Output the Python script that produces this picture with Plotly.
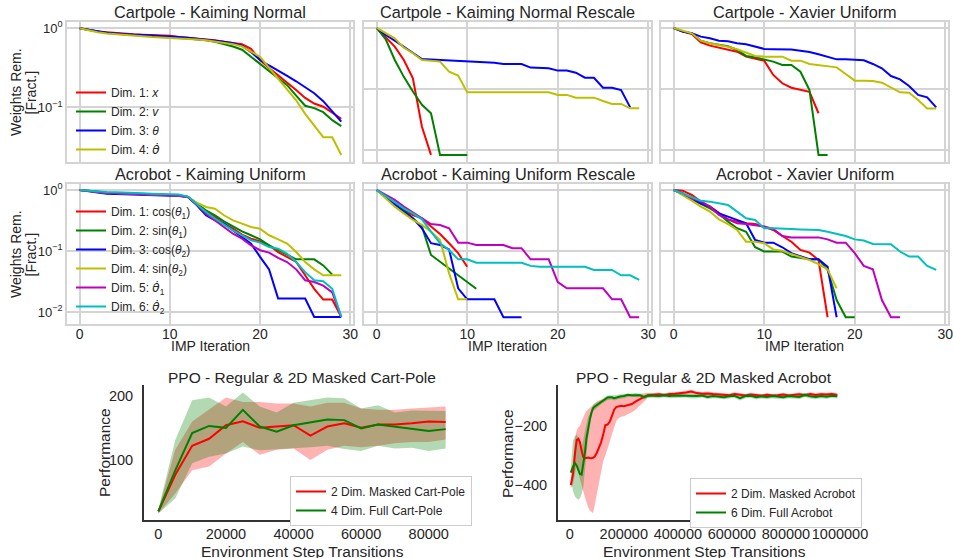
import plotly.graph_objects as go

# ---------------------------------------------------------------- data
iterations = list(range(30))

# Cartpole - Kaiming Normal (fraction of weights remaining per IMP iteration)
cp_kn_x = [1.0, 0.955, 0.912, 0.891, 0.871, 0.851, 0.841, 0.832, 0.822, 0.813, 0.804, 0.776, 0.759, 0.741, 0.724,
           0.708, 0.676, 0.646, 0.631, 0.550, 0.398, 0.316, 0.257, 0.209, 0.166, 0.132, 0.112, 0.102, 0.085, 0.072]
cp_kn_v = [1.0, 0.955, 0.902, 0.871, 0.851, 0.832, 0.813, 0.804, 0.794, 0.776, 0.767, 0.759, 0.741, 0.724, 0.708,
           0.676, 0.631, 0.589, 0.537, 0.437, 0.355, 0.295, 0.240, 0.191, 0.141, 0.105, 0.098, 0.087, 0.069, 0.058]
cp_kn_theta = [1.0, 0.955, 0.912, 0.881, 0.861, 0.841, 0.832, 0.822, 0.813, 0.804, 0.794, 0.776, 0.759, 0.741, 0.724,
               0.700, 0.676, 0.646, 0.603, 0.501, 0.398, 0.339, 0.288, 0.251, 0.214, 0.182, 0.151, 0.120, 0.089, 0.066]
cp_kn_thetadot = [1.0, 0.944, 0.891, 0.861, 0.841, 0.822, 0.804, 0.794, 0.776, 0.767, 0.759, 0.750, 0.741, 0.724, 0.708,
                  0.684, 0.661, 0.631, 0.589, 0.513, 0.437, 0.316, 0.229, 0.166, 0.123, 0.083, 0.058, 0.042, 0.042, 0.025]

# Cartpole - Kaiming Normal Rescale
cp_knr_x = [1.0, 0.703, 0.494, 0.299, 0.150, 0.024, 0.0083]
cp_knr_v = [1.0, 0.652, 0.299, 0.158, 0.091, 0.055, 0.040, 0.0083, 0.0083, 0.0083, 0.0083]
cp_knr_theta = [1.0, 0.767, 0.620, 0.494, 0.399, 0.310, 0.303, 0.299, 0.295, 0.291, 0.288, 0.281, 0.274, 0.269, 0.257,
                0.257, 0.257, 0.224, 0.224, 0.218, 0.200, 0.200, 0.185, 0.153, 0.153, 0.105, 0.105, 0.096, 0.050]
cp_knr_thetadot = [1.0, 0.818, 0.678, 0.476, 0.385, 0.299, 0.288, 0.281, 0.192, 0.166, 0.088, 0.088, 0.088, 0.088, 0.088,
                   0.088, 0.088, 0.088, 0.088, 0.088, 0.080, 0.080, 0.072, 0.072, 0.072, 0.0635, 0.0568, 0.0568, 0.0482, 0.0482]

# Cartpole - Xavier Uniform
cp_xu_x = [1.0, 0.871, 0.798, 0.582, 0.513, 0.476, 0.453, 0.409, 0.339, 0.318, 0.291, 0.170, 0.124, 0.105, 0.096, 0.090, 0.040]
cp_xu_v = [1.0, 0.871, 0.818, 0.619, 0.561, 0.526, 0.500, 0.436, 0.348, 0.330, 0.306, 0.281, 0.247, 0.247, 0.192, 0.096,
           0.0083, 0.0083]
cp_xu_theta = [1.0, 0.871, 0.818, 0.721, 0.678, 0.620, 0.604, 0.561, 0.540, 0.494, 0.453, 0.447, 0.447, 0.442, 0.425,
               0.405, 0.370, 0.339, 0.306, 0.306, 0.299, 0.295, 0.257, 0.218, 0.163, 0.144, 0.112, 0.080, 0.073, 0.050]
cp_xu_thetadot = [1.0, 0.893, 0.818, 0.619, 0.561, 0.526, 0.494, 0.447, 0.394, 0.348, 0.339, 0.339, 0.339, 0.291, 0.291,
                  0.257, 0.244, 0.238, 0.226, 0.176, 0.137, 0.137, 0.135, 0.127, 0.106, 0.088, 0.087, 0.066, 0.048, 0.048]

# Acrobot - Kaiming Uniform
ac_ku_cos1 = [1.0, 0.955, 0.933, 0.902, 0.891, 0.881, 0.871, 0.861, 0.851, 0.841, 0.832, 0.813, 0.767, 0.597, 0.436,
              0.361, 0.281, 0.232, 0.185, 0.159, 0.144, 0.124, 0.096, 0.080, 0.066, 0.040, 0.024, 0.016, 0.016, 0.0083]
ac_ku_sin1 = [1.0, 0.955, 0.933, 0.902, 0.891, 0.881, 0.871, 0.861, 0.851, 0.841, 0.832, 0.813, 0.767, 0.597, 0.465,
              0.385, 0.306, 0.254, 0.210, 0.181, 0.155, 0.124, 0.103, 0.087, 0.073, 0.073, 0.073, 0.058, 0.041]
ac_ku_cos2 = [1.0, 0.955, 0.912, 0.870, 0.860, 0.850, 0.845, 0.840, 0.830, 0.820, 0.810, 0.800, 0.767, 0.561, 0.385,
              0.318, 0.281, 0.218, 0.170, 0.132, 0.080, 0.050, 0.0166, 0.0166, 0.0166, 0.0166, 0.0083, 0.0083, 0.0083, 0.0083]
ac_ku_sin2 = [1.0, 0.955, 0.933, 0.902, 0.891, 0.881, 0.871, 0.861, 0.851, 0.841, 0.832, 0.813, 0.767, 0.617, 0.526,
              0.494, 0.385, 0.318, 0.281, 0.247, 0.232, 0.181, 0.155, 0.132, 0.096, 0.066, 0.050, 0.040, 0.040, 0.040]
ac_ku_dot1 = [1.0, 0.955, 0.933, 0.902, 0.891, 0.881, 0.871, 0.861, 0.851, 0.841, 0.832, 0.813, 0.767, 0.575, 0.409,
              0.318, 0.247, 0.192, 0.159, 0.124, 0.103, 0.094, 0.077, 0.066, 0.050, 0.033, 0.031, 0.027, 0.021, 0.0083]
ac_ku_dot2 = [1.0, 0.970, 0.950, 0.930, 0.920, 0.900, 0.890, 0.880, 0.870, 0.860, 0.850, 0.840, 0.780, 0.575, 0.436,
              0.339, 0.270, 0.218, 0.181, 0.150, 0.137, 0.116, 0.109, 0.090, 0.066, 0.045, 0.033, 0.032, 0.024, 0.0083]

# Acrobot - Kaiming Uniform Rescale
ac_kur_cos1 = [1.0, 0.776, 0.604, 0.470, 0.389, 0.344, 0.251, 0.190, 0.134, 0.092, 0.055]
ac_kur_sin1 = [1.0, 0.759, 0.589, 0.470, 0.344, 0.251, 0.086, 0.067, 0.052, 0.040, 0.031, 0.024]
ac_kur_cos2 = [1.0, 0.759, 0.568, 0.442, 0.344, 0.235, 0.134, 0.125, 0.106, 0.0244, 0.0161, 0.0161, 0.0161, 0.0161,
               0.0082, 0.0082, 0.0082]
ac_kur_sin2 = [1.0, 0.730, 0.533, 0.414, 0.322, 0.267, 0.207, 0.151, 0.043, 0.0161, 0.0161]
ac_kur_dot1 = [1.0, 0.828, 0.686, 0.533, 0.425, 0.344, 0.277, 0.267, 0.236, 0.137, 0.137, 0.125, 0.125, 0.125, 0.125,
               0.111, 0.111, 0.073, 0.073, 0.073, 0.031, 0.0244, 0.0244, 0.0244, 0.0244, 0.0244, 0.0161, 0.0161, 0.0082, 0.0082]
ac_kur_dot2 = [1.0, 0.798, 0.644, 0.500, 0.414, 0.330, 0.207, 0.134, 0.104, 0.073, 0.073, 0.064, 0.064, 0.064, 0.064,
               0.064, 0.064, 0.057, 0.055, 0.055, 0.055, 0.055, 0.055, 0.055, 0.049, 0.049, 0.049, 0.040, 0.040, 0.0335]

# Acrobot - Xavier Uniform
ac_xu_cos1 = [1.0, 0.975, 0.828, 0.644, 0.533, 0.414, 0.330, 0.303, 0.284, 0.277, 0.251, 0.221, 0.176, 0.142, 0.104,
              0.094, 0.071, 0.0082]
ac_xu_sin1 = [1.0, 0.859, 0.703, 0.589, 0.500, 0.405, 0.303, 0.236, 0.207, 0.115, 0.098, 0.098, 0.098, 0.081, 0.076,
              0.073, 0.073, 0.049, 0.0157, 0.0082, 0.0082]
ac_xu_cos2 = [1.0, 0.881, 0.730, 0.604, 0.533, 0.414, 0.366, 0.322, 0.284, 0.151, 0.137, 0.137, 0.115, 0.092, 0.081,
              0.073, 0.073, 0.055, 0.0082]
ac_xu_sin2 = [1.0, 0.828, 0.668, 0.533, 0.442, 0.330, 0.277, 0.221, 0.142, 0.142, 0.134, 0.106, 0.101, 0.089, 0.079,
              0.071, 0.061, 0.050, 0.0244]
ac_xu_dot1 = [1.0, 0.881, 0.730, 0.644, 0.533, 0.389, 0.330, 0.284, 0.277, 0.267, 0.251, 0.230, 0.176, 0.167, 0.167,
              0.167, 0.167, 0.155, 0.137, 0.137, 0.092, 0.057, 0.050, 0.0157, 0.0082, 0.0082]
ac_xu_dot2 = [1.0, 0.881, 0.778, 0.668, 0.644, 0.604, 0.568, 0.442, 0.344, 0.322, 0.236, 0.236, 0.236, 0.230, 0.226,
              0.226, 0.221, 0.207, 0.190, 0.176, 0.155, 0.148, 0.130, 0.129, 0.129, 0.098, 0.081, 0.081, 0.057, 0.049]

# PPO Cart-Pole: mean and spread of the return
cp_steps = [0, 5000, 10000, 15000, 20000, 25000, 30000, 35000, 40000, 45000, 50000, 55000, 60000, 65000, 70000,
            75000, 80000, 85000]
cp_masked_mean = [20, 77, 122, 133, 154, 160, 150, 152, 154, 138, 152, 157, 150, 155, 155, 157, 160, 159]
cp_masked_upper = [23, 116, 160, 178, 197, 190, 190, 188, 188, 183, 189, 189, 180, 178, 178, 180, 181, 183]
cp_masked_lower = [17, 48, 84, 90, 110, 128, 108, 116, 118, 100, 116, 122, 120, 122, 126, 128, 128, 132]
cp_full_mean = [20, 84, 142, 153, 150, 178, 152, 144, 154, 158, 163, 162, 149, 155, 152, 149, 145, 148]
cp_full_upper = [23, 131, 193, 197, 183, 205, 183, 174, 189, 193, 197, 196, 180, 185, 174, 177, 176, 176]
cp_full_lower = [17, 40, 95, 105, 110, 121, 115, 116, 118, 120, 122, 117, 114, 122, 118, 119, 114, 118]

# PPO Acrobot: mean and spread of the return
ac_steps = [4000, 12000, 20000, 26000, 32000, 38000, 44000, 50000, 56000, 62000, 68000, 74000, 80000, 86000, 92000,
            100000, 108000, 116000, 124000, 132000, 140000, 148000, 156000, 164000, 172000, 180000,
            190000, 200000, 215000, 230000, 245000, 260000, 275000, 290000,
            310000, 330000, 350000, 370000, 390000, 410000, 430000, 450000, 470000, 490000, 510000, 530000,
            550000, 570000, 590000, 610000, 630000, 650000, 670000, 690000, 710000, 730000, 750000, 770000,
            790000, 810000, 830000, 850000, 870000, 890000, 910000, 930000, 950000, 970000, 990000]
ac_masked_mean = [-400, -366, -290, -248, -244, -256, -284, -305, -310, -308, -307, -309, -310, -308, -305,
                  -292, -275, -256, -230, -198, -196, -187, -168, -147, -137, -135,
                  -133, -134, -130, -127, -118, -110, -103, -97,
                  -96, -94, -97, -93, -92, -91, -88, -85, -90, -92, -91, -93, -94, -96, -97, -93, -96, -98,
                  -95, -97, -99, -96, -98, -97, -95, -98, -96, -94, -97, -93, -96, -94, -95, -93, -96]
ac_masked_upper = [-390, -330, -240, -215, -205, -200, -185, -170, -160, -150, -145, -140, -132, -127, -122,
                   -118, -115, -112, -110, -108, -107, -106, -106, -105, -104, -103,
                   -102, -101, -99, -97, -95, -93, -91, -89,
                   -90, -88, -91, -87, -86, -85, -82, -79, -84, -86, -85, -87, -88, -90, -91, -87, -90, -92,
                   -89, -91, -93, -90, -92, -91, -89, -92, -90, -88, -91, -87, -90, -88, -89, -87, -90]
ac_masked_lower = [-410, -400, -360, -330, -360, -380, -400, -420, -440, -460, -475, -485, -490, -495, -470,
                   -440, -400, -360, -320, -300, -280, -255, -230, -205, -185, -175,
                   -170, -168, -162, -155, -145, -132, -118, -105,
                   -102, -100, -103, -99, -98, -97, -94, -92, -96, -98, -97, -99, -100, -102, -103, -99, -102, -104,
                   -101, -103, -105, -102, -104, -103, -101, -104, -102, -100, -103, -99, -102, -100, -101, -99, -102]
ac_full_mean = [-358, -338, -327, -335, -350, -363, -365, -335, -293, -243, -203, -181, -158, -141, -136,
                -131, -126, -120, -114, -110, -105, -104, -104, -107, -105, -102,
                -101, -100, -96, -97, -96, -97, -104, -98,
                -99, -100, -97, -100, -98, -99, -98, -101, -100, -98, -103, -100, -101, -104, -101, -99, -107, -100,
                -99, -104, -101, -103, -100, -102, -104, -100, -101, -103, -96, -101, -103, -100, -102, -99, -101]
ac_full_upper = [-340, -250, -235, -230, -240, -260, -270, -250, -220, -190, -170, -160, -145, -130, -126,
                 -122, -118, -113, -107, -103, -98, -97, -97, -99, -97, -95,
                 -94, -93, -90, -91, -90, -91, -97, -91,
                 -92, -93, -90, -93, -91, -92, -91, -94, -93, -91, -96, -93, -94, -97, -94, -92, -99, -93,
                 -92, -97, -94, -96, -93, -95, -97, -93, -94, -96, -89, -94, -96, -93, -95, -92, -94]
ac_full_lower = [-380, -420, -440, -445, -450, -445, -430, -410, -360, -300, -240, -205, -172, -152, -146,
                 -140, -134, -128, -122, -118, -113, -112, -112, -115, -113, -110,
                 -108, -107, -103, -104, -103, -104, -112, -106,
                 -106, -107, -104, -107, -105, -106, -105, -108, -107, -105, -110, -107, -108, -111, -108, -106,
                 -115, -107, -106, -111, -108, -110, -107, -109, -111, -107, -108, -110, -103, -108, -110, -107,
                 -109, -106, -108]

THETA_DOT = '<span style="font-family:DejaVu Sans">θ̇</span>'
cartpole_labels = ["Dim. 1: <i>x</i>", "Dim. 2: <i>v</i>", "Dim. 3: <i>θ</i>", "Dim. 4: <i>" + THETA_DOT + "</i>"]
acrobot_labels = ["Dim. 1: cos(<i>θ</i><sub>1</sub>)", "Dim. 2: sin(<i>θ</i><sub>1</sub>)",
                  "Dim. 3: cos(<i>θ</i><sub>2</sub>)", "Dim. 4: sin(<i>θ</i><sub>2</sub>)",
                  "Dim. 5: <i>" + THETA_DOT + "</i><sub>1</sub>", "Dim. 6: <i>" + THETA_DOT + "</i><sub>2</sub>"]

# ---------------------------------------------------------------- styling
W, H = 953, 558
FONT = "Liberation Sans, Arial, sans-serif"
TXT = "#262626"
GRID = "#d4d4d4"
SPINE = "#333333"
cart_colors = ["#ff0000", "#008000", "#0000ff", "#bfbf00"]
acro_colors = ["#ff0000", "#008000", "#0000ff", "#bfbf00", "#bf00bf", "#00bfbf"]


def xdom(left, right):
    return [left / W, right / W]


def ydom(top, bottom):
    return [1 - bottom / H, 1 - top / H]


def label(text, px, py, size, angle=0):
    return dict(text=text, x=px / W, y=1 - py / H, xref="paper", yref="paper", showarrow=False,
                xanchor="center", yanchor="middle", textangle=angle, font=dict(size=size, color=TXT))


cols = [(67, 353), (364, 651), (661, 948)]
rows = [(22, 162), (184, 324)]

fig = go.Figure()

panels = [
    ("Cartpole - Kaiming Normal", [cp_kn_x, cp_kn_v, cp_kn_theta, cp_kn_thetadot], [-1.69, 0.08]),
    ("Cartpole - Kaiming Normal Rescale", [cp_knr_x, cp_knr_v, cp_knr_theta, cp_knr_thetadot], [-2.197, 0.098]),
    ("Cartpole - Xavier Uniform", [cp_xu_x, cp_xu_v, cp_xu_theta, cp_xu_thetadot], [-2.197, 0.098]),
    ("Acrobot - Kaiming Uniform", [ac_ku_cos1, ac_ku_sin1, ac_ku_cos2, ac_ku_sin2, ac_ku_dot1, ac_ku_dot2],
     [-2.197, 0.098]),
    ("Acrobot - Kaiming Uniform Rescale", [ac_kur_cos1, ac_kur_sin1, ac_kur_cos2, ac_kur_sin2, ac_kur_dot1,
                                          ac_kur_dot2], [-2.197, 0.098]),
    ("Acrobot - Xavier Uniform", [ac_xu_cos1, ac_xu_sin1, ac_xu_cos2, ac_xu_sin2, ac_xu_dot1, ac_xu_dot2],
     [-2.197, 0.098]),
]

layout = {}
annotations = []

for i, (title, series, yrange) in enumerate(panels):
    r, c = divmod(i, 3)
    n = i + 1
    xa = "x" if n == 1 else f"x{n}"
    ya = "y" if n == 1 else f"y{n}"
    colors = cart_colors if r == 0 else acro_colors
    labels = cartpole_labels if r == 0 else acrobot_labels
    for k, vals in enumerate(series):
        fig.add_trace(go.Scatter(
            x=iterations[:len(vals)], y=vals, mode="lines",
            line=dict(color=colors[k], width=2),
            name=labels[k], xaxis=xa, yaxis=ya,
            showlegend=(c == 0), legend="legend" if r == 0 else "legend2",
            hoverinfo="skip"))
    left, right = cols[c]
    top, bottom = rows[r]
    layout["xaxis" if n == 1 else f"xaxis{n}"] = dict(
        domain=xdom(left, right), anchor=ya, range=[-1.4, 30.3], automargin=False,
        tickvals=[0, 10, 20, 30], showticklabels=(r == 1), tickangle=0,
        ticklabeloverflow="allow", ticklabelstandoff=-4,
        showgrid=True, gridcolor=GRID, gridwidth=1.5,
        showline=True, mirror=True, linecolor=GRID, linewidth=1.5,
        zeroline=False, ticks="", tickfont=dict(size=14, color=TXT))
    layout["yaxis" if n == 1 else f"yaxis{n}"] = dict(
        domain=ydom(top, bottom), anchor=xa, type="log", range=yrange, automargin=False,
        tickvals=[1, 0.1, 0.01], ticktext=["10<sup>0</sup>", "10<sup>−1</sup>", "10<sup>−2</sup>"],
        showticklabels=(c == 0), ticklabelstandoff=0,
        showgrid=True, gridcolor=GRID, gridwidth=1.5,
        showline=True, mirror=True, linecolor=GRID, linewidth=1.5,
        zeroline=False, ticks="", tickfont=dict(size=13, color=TXT))
    annotations.append(label(title, (left + right) / 2, top - 10, 16.3))
    if r == 1:
        annotations.append(label("IMP Iteration", (left + right) / 2, 346, 14))

for top, bottom in rows:
    annotations.append(label("Weights Rem.", 16, (top + bottom) / 2, 14, -90))
    annotations.append(label("[Fract.]", 30.5, (top + bottom) / 2, 14, -90))


# ---------------------------------------------------------------- PPO panels
def band(xs, upper, lower, color, xa, ya):
    fig.add_trace(go.Scatter(
        x=list(xs) + list(xs)[::-1], y=list(upper) + list(lower)[::-1],
        fill="toself", fillcolor=color, line=dict(width=0), mode="lines",
        showlegend=False, xaxis=xa, yaxis=ya, hoverinfo="skip"))


band(cp_steps, cp_masked_upper, cp_masked_lower, "rgba(255,0,0,0.3)", "x7", "y7")
band(cp_steps, cp_full_upper, cp_full_lower, "rgba(0,128,0,0.3)", "x7", "y7")
fig.add_trace(go.Scatter(x=cp_steps, y=cp_masked_mean, mode="lines", line=dict(color="#ff0000", width=2),
                         name="2 Dim. Masked Cart-Pole", xaxis="x7", yaxis="y7", legend="legend3"))
fig.add_trace(go.Scatter(x=cp_steps, y=cp_full_mean, mode="lines", line=dict(color="#008000", width=2),
                         name="4 Dim. Full Cart-Pole", xaxis="x7", yaxis="y7", legend="legend3"))

band(ac_steps, ac_masked_upper, ac_masked_lower, "rgba(255,0,0,0.3)", "x8", "y8")
band(ac_steps, ac_full_upper, ac_full_lower, "rgba(0,128,0,0.3)", "x8", "y8")
fig.add_trace(go.Scatter(x=ac_steps, y=ac_masked_mean, mode="lines", line=dict(color="#ff0000", width=2),
                         name="2 Dim. Masked Acrobot", xaxis="x8", yaxis="y8", legend="legend4"))
fig.add_trace(go.Scatter(x=ac_steps, y=ac_full_mean, mode="lines", line=dict(color="#008000", width=2),
                         name="6 Dim. Full Acrobot", xaxis="x8", yaxis="y8", legend="legend4"))

ppo_axes = [
    ("PPO - Regular & 2D Masked Cart-Pole", (144, 460), [-4250, 89250], [0, 20000, 40000, 60000, 80000],
     [6.7, 216.6], [100, 200], 7, 105),
    ("PPO - Regular & 2D Masked Acrobot", (558, 850), [-43300, 1037000],
     [0, 200000, 400000, 600000, 800000, 1000000], [-518, -62.7], [-400, -200], 8, 508),
]
for title, (left, right), xr, xt, yr, yt, n, ylab_x in ppo_axes:
    layout[f"xaxis{n}"] = dict(
        domain=xdom(left, right), anchor=f"y{n}", range=xr, tickvals=xt, tickformat="d",
        automargin=False, tickangle=0, ticklabeloverflow="allow",
        showgrid=False, zeroline=False, showline=True, linecolor=SPINE, linewidth=2,
        ticks="", ticklabelstandoff=0, tickfont=dict(size=14.5, color=TXT))
    layout[f"yaxis{n}"] = dict(
        domain=ydom(385, 520), anchor=f"x{n}", range=yr, tickvals=yt, automargin=False,
        showgrid=False, zeroline=False, showline=True, linecolor=SPINE, linewidth=2,
        ticks="", ticklabelstandoff=6, tickfont=dict(size=14.5, color=TXT))
    annotations.append(label(title, (left + right) / 2, 377, 15.5))
    annotations.append(label("Environment Step Transitions", (left + right) / 2, 551, 15.5))
    annotations.append(label("Performance", ylab_x, 453, 15.5, -90))

legend_common = dict(font=dict(size=12, color=TXT), bgcolor="rgba(255,255,255,0)",
                     xanchor="left", yanchor="top", tracegroupgap=0)
layout["legend"] = dict(legend_common, x=71 / W, y=1 - 78 / H)
layout["legend2"] = dict(legend_common, x=71 / W, y=1 - 197 / H)
layout["legend3"] = dict(legend_common, x=290 / W, y=1 - 476 / H, bgcolor="white",
                         bordercolor="#cccccc", borderwidth=1)
layout["legend4"] = dict(legend_common, x=690 / W, y=1 - 478 / H, bgcolor="white",
                         bordercolor="#cccccc", borderwidth=1)

fig.update_layout(
    width=W, height=H, margin=dict(l=0, r=0, t=0, b=0),
    paper_bgcolor="white", plot_bgcolor="white",
    font=dict(family=FONT, color=TXT),
    annotations=annotations, **layout)

fig.write_html("out.html")
